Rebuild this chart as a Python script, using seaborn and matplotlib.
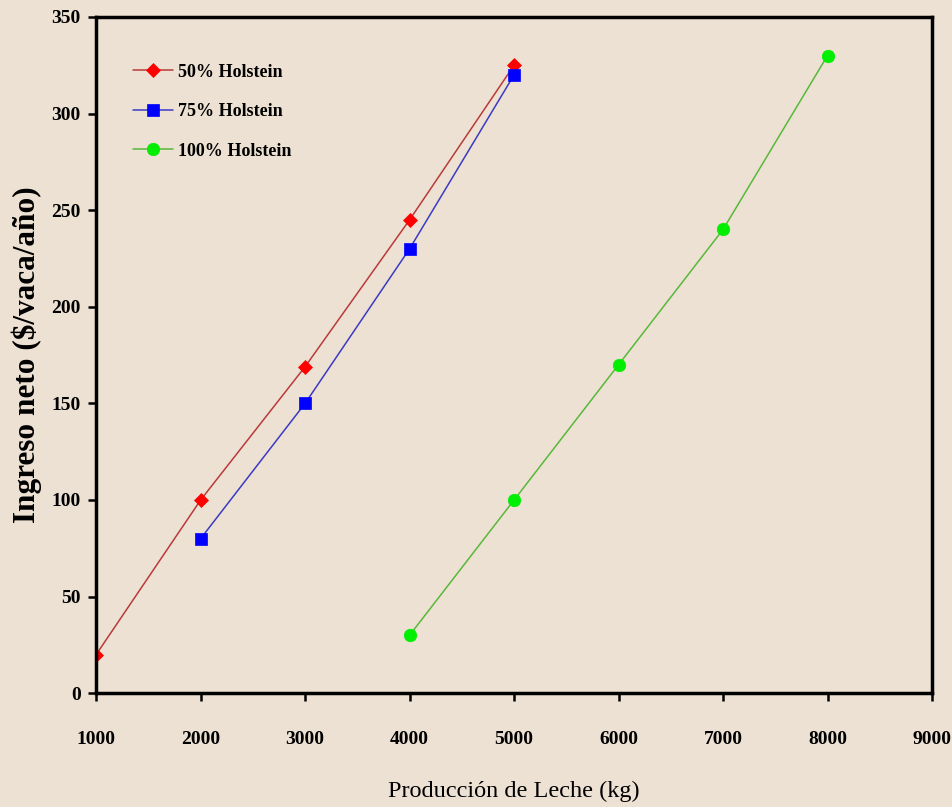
import numpy as np
import pandas as pd
import seaborn as sns
import matplotlib.pyplot as plt

# ############### Data ###############
series_names = ['50% Holstein', '75% Holstein', '100% Holstein']

x_50 = [1000, 2000, 3000, 4000, 5000]
y_50 = [20, 100, 169, 245, 325]

x_75 = [2000, 3000, 4000, 5000]
y_75 = [80, 150, 230, 320]

x_100 = [4000, 5000, 6000, 7000, 8000]
y_100 = [30, 100, 170, 240, 330]

x_ticks = [1000, 2000, 3000, 4000, 5000, 6000, 7000, 8000, 9000]
y_ticks = [0, 50, 100, 150, 200, 250, 300, 350]

df = pd.concat([
    pd.DataFrame({'prod': x_50, 'ingreso': y_50, 'raza': series_names[0]}),
    pd.DataFrame({'prod': x_75, 'ingreso': y_75, 'raza': series_names[1]}),
    pd.DataFrame({'prod': x_100, 'ingreso': y_100, 'raza': series_names[2]}),
], ignore_index=True)

# ############### Styling ###############
bg = '#EDE1D3'
line_cols = {series_names[0]: '#B93A3A', series_names[1]: '#3A3AC4', series_names[2]: '#58B83A'}
marker_cols = ['#FF0000', '#0000FF', '#00EE00']
marker_shapes = {series_names[0]: 'D', series_names[1]: 's', series_names[2]: 'o'}
marker_sizes = [7.5, 8, 9]

sns.set_style('ticks')
plt.rcParams['font.family'] = ['Liberation Serif', 'DejaVu Serif']
plt.rcParams['text.color'] = 'black'
plt.rcParams['axes.labelcolor'] = 'black'
plt.rcParams['xtick.color'] = 'black'
plt.rcParams['ytick.color'] = 'black'

fig = plt.figure(figsize=(9.52, 8.07), dpi=100, facecolor=bg)
ax = fig.add_axes([0.101, 0.141, 0.878, 0.838])
ax.set_facecolor(bg)

sns.lineplot(data=df, x='prod', y='ingreso', hue='raza', style='raza',
             markers=marker_shapes, dashes=False, palette=line_cols,
             linewidth=1.1, ax=ax, legend=False)

for line, mc, ms in zip(ax.lines, marker_cols, marker_sizes):
    line.set_markerfacecolor(mc)
    line.set_markeredgecolor(mc)
    line.set_markersize(ms)
    line.set_markeredgewidth(0.5)

ax.set_xlim(1000, 9000)
ax.set_ylim(0, 350)
ax.set_xticks(x_ticks)
ax.set_yticks(y_ticks)
ax.tick_params(axis='both', direction='out', length=6, width=1.8, labelsize=14)
ax.tick_params(axis='x', pad=21)
ax.tick_params(axis='y', pad=5)
for lab in ax.get_xticklabels() + ax.get_yticklabels():
    lab.set_fontweight('bold')

for sp in ax.spines.values():
    sp.set_visible(True)
    sp.set_linewidth(2.5)
    sp.set_color('black')

ax.set_xlabel('Producción de Leche (kg)', fontsize=17.5, labelpad=24)
ax.set_ylabel('Ingreso neto ($/vaca/año)', fontsize=22.5, fontweight='bold', labelpad=7)

ax.legend(ax.lines, series_names, loc='upper left', bbox_to_anchor=(0.025, 0.955),
          frameon=False, prop={'weight': 'bold', 'size': 13}, labelspacing=1.25,
          handlelength=2.2, handletextpad=0.3)

plt.savefig('out.png', dpi=100, facecolor=bg)
plt.close('all')
